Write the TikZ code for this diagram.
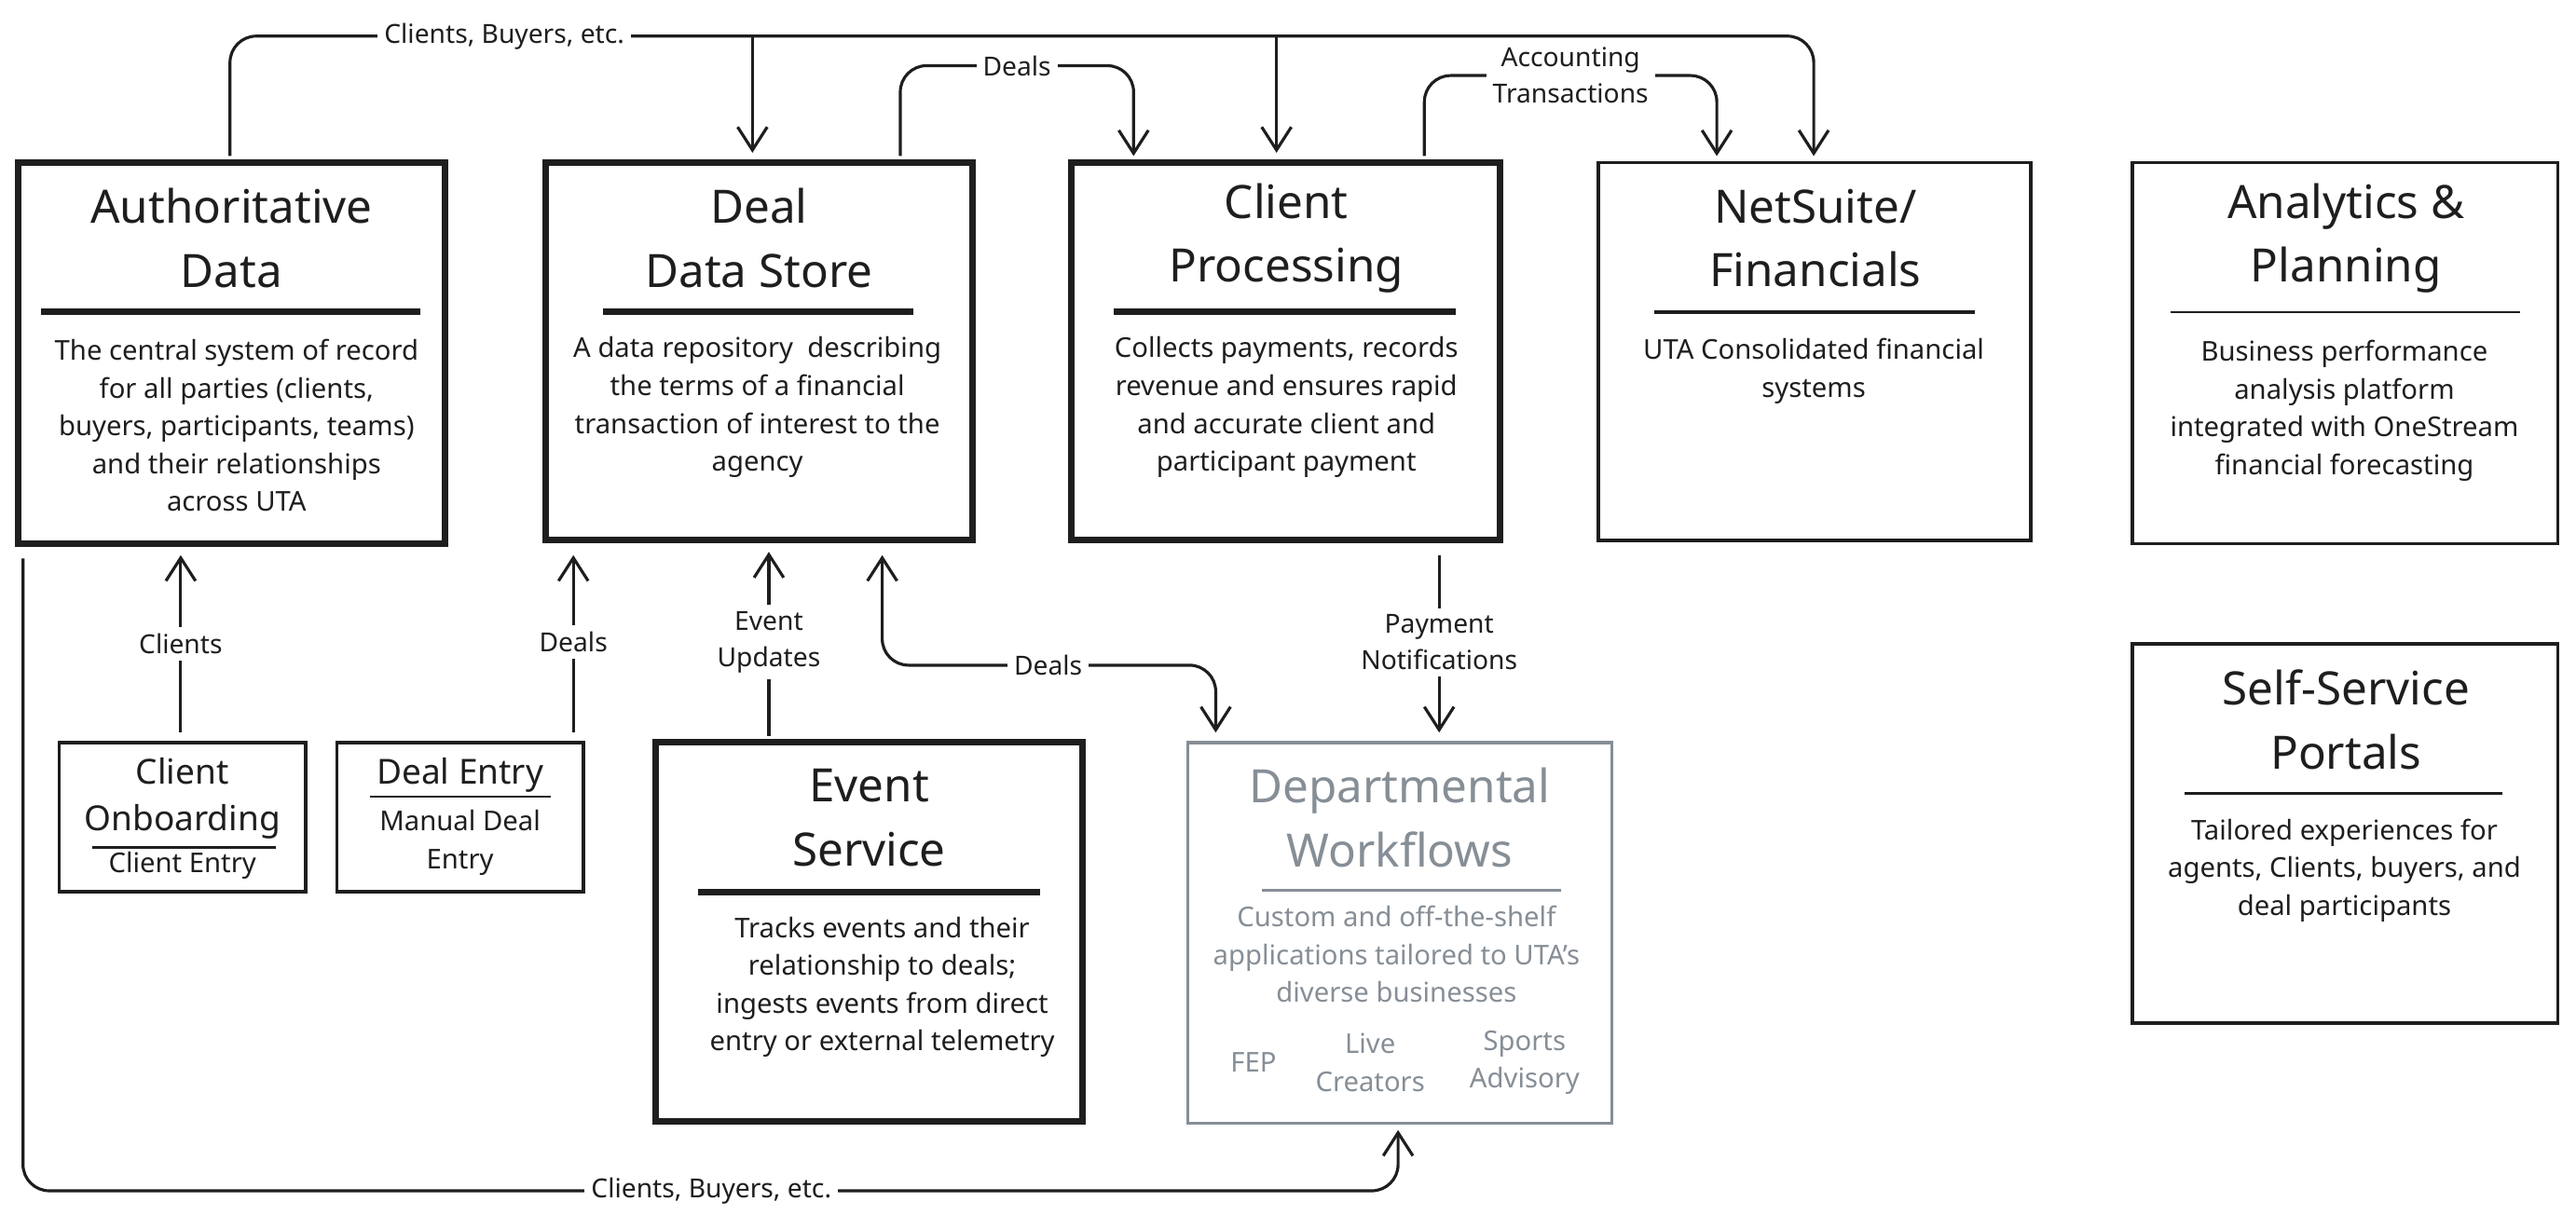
\documentclass[tikz,border=0pt]{standalone}
\usepackage{fontspec}
\setmainfont{Noto Sans}
\usetikzlibrary{arrows.meta,calc}
\definecolor{ink}{HTML}{1E1E1E}
\definecolor{gr}{HTML}{868E96}
\begin{document}
\begin{tikzpicture}[x=0.5pt,y=-0.5pt,
  thick box/.style={draw=ink,line width=2pt},
  thin box/.style={draw=ink,line width=1pt},
  ttl/.style={font=\fontsize{14}{19.5}\selectfont,align=center,text=ink},
  body/.style={font=\fontsize{8.3}{11.5}\selectfont,align=center,text=ink},
  lbl/.style={font=\fontsize{8}{11}\selectfont,align=center,text=ink,fill=white,inner sep=2pt},
  con/.style={draw=ink,line width=0.9pt,rounded corners=8pt},
  arr/.style={-{Straight Barb[length=7pt,width=9pt]}},
  barr/.style={{Straight Barb[length=7pt,width=9pt]}-{Straight Barb[length=7pt,width=9pt]}}]
\useasboundingbox (0,0) rectangle (1568,748);
% boxes
\path[thick box] (11,99) rectangle (271,331) coordinate (adse);
\path[thick box] (332,99) rectangle (592,329);
\path[thick box] (652,99) rectangle (913,329);
\path[thin box] (973,99) rectangle (1236,329);
\path[thin box] (1298,99) rectangle (1557,331);
\path[thin box] (1298,392) rectangle (1557,623);
\path[thin box] (36,452) rectangle (186,543);
\path[thin box] (205,452) rectangle (355,543);
\path[thick box] (399,452) rectangle (659,683);
\path[draw=gr,line width=1pt] (723,452) rectangle (981,684);
% underlines
\draw[ink,line width=2pt] (25,190) -- (256,190);
\draw[ink,line width=2pt] (367,190) -- (556,190);
\draw[ink,line width=2pt] (678,190) -- (886,190);
\draw[ink,line width=1pt] (1007,190) -- (1202,190);
\draw[ink,line width=0.7pt] (1321,190) -- (1534,190);
\draw[ink,line width=0.7pt] (1330,483) -- (1523,483);
\draw[ink,line width=2pt] (425,543) -- (633,543);
\draw[gr,line width=0.7pt] (768,542) -- (950,542);
\draw[ink,line width=0.7pt] (56,516) -- (168,516);
\draw[ink,line width=0.7pt] (225,485) -- (335,485);
% titles
\node[ttl] (tAD) at (141,145) {Authoritative\\Data};
\node[ttl] (tDD) at (462,145) {Deal\\Data Store};
\node[ttl] (tCP) at (783,145) {Client\\Processing};
\node[ttl] (tNS) at (1105,145) {NetSuite/\\Financials};
\node[ttl] (tAP) at (1428,145) {Analytics \&\\Planning};
\node[ttl] (tSS) at (1428,438) {Self-Service\\Portals};
\node[ttl] (tES) at (529,498) {Event\\Service};
\node[ttl,text=gr] (tDW) at (852,498) {Departmental\\Workflows};
\node[font=\fontsize{10.5}{14}\selectfont,align=center,text=ink] (tCO) at (111,486) {Client\\Onboarding};
\node[font=\fontsize{10.5}{14}\selectfont,text=ink] (tDE) at (280,472) {Deal Entry};
\node[body] (bCO) at (111,527) {Client Entry};
\node[body] (bDE) at (280,513) {Manual Deal\\Entry};
% bodies
\node[body] (bAD) at (144,259) {The central system of record\\for all parties (clients,\\buyers, participants, teams)\\and their relationships\\across UTA};
\node[body] (bDD) at (461,248) {A data repository\ \ describing\\the terms of a financial\\transaction of interest to the\\agency};
\node[body] (bCP) at (783,248) {Collects payments, records\\revenue and ensures rapid\\and accurate client and\\participant payment};
\node[body] (bNS) at (1104,226) {UTA Consolidated financial\\systems};
\node[body] (bAP) at (1427,250) {Business performance\\analysis platform\\integrated with OneStream\\financial forecasting};
\node[body] (bSS) at (1427,530) {Tailored experiences for\\agents, Clients, buyers, and\\deal participants};
\node[body] (bES) at (537,601) {Tracks events and their\\relationship to deals;\\ingests events from direct\\entry or external telemetry};
\node[body,text=gr] (bDW) at (850,581) {Custom and off-the-shelf\\applications tailored to UTA's\\diverse businesses};
\node[body,text=gr] (fep) at (763,647) {FEP};
\node[body,text=gr] (live) at (834,647) {Live\\Creators};
\node[body,text=gr] (sport) at (928,647) {Sports\\Advisory};
% connector endpoints
\coordinate (a1) at (140,95); \coordinate (n1) at (1104,95);
\coordinate (d1) at (458,93); \coordinate (c1) at (777,93);
\coordinate (d2) at (548,95); \coordinate (c2) at (690,95);
\coordinate (c3) at (867,95); \coordinate (n2) at (1045,95);
\coordinate (co) at (110,446); \coordinate (ad2) at (110,338);
\coordinate (de) at (349,446); \coordinate (dd2) at (349,338);
\coordinate (es) at (468,448); \coordinate (dd3) at (468,336);
\coordinate (dd4) at (537,338); \coordinate (dw1) at (740,446);
\coordinate (cp4) at (876,338); \coordinate (dw2) at (876,446);
\coordinate (ad3) at (14,340); \coordinate (dw3) at (851,688);
% connectors
\draw[con,arr] (a1) |- (458,22) -| (n1);
\draw[con,arr] (458,22) -- (d1);
\draw[con,arr] (777,22) -- (c1);
\node[lbl] at (307,22) {Clients, Buyers, etc.};
\draw[con,arr] (d2) |- (619,40) -| (c2);
\node[lbl] at (619,40) {Deals};
\draw[con,arr] (c3) |- (956,46) -| (n2);
\node[lbl] at (956,46) {Accounting\\Transactions};
\draw[con,arr] (co) -- (ad2);
\node[lbl] at (110,392) {Clients};
\draw[con,arr] (de) -- (dd2);
\node[lbl] at (349,391) {Deals};
\draw[con,arr] (es) -- (dd3);
\node[lbl] at (468,391) {Event\\Updates};
\draw[con,barr] (dd4) |- (638,405) -| (dw1);
\node[lbl] at (638,405) {Deals};
\draw[con,arr] (cp4) -- (dw2);
\node[lbl] at (876,391) {Payment\\Notifications};
\draw[con,arr] (ad3) |- (433,725) -| (dw3);
\node[lbl] at (433,725) {Clients, Buyers, etc.};
\end{tikzpicture}
\end{document}
